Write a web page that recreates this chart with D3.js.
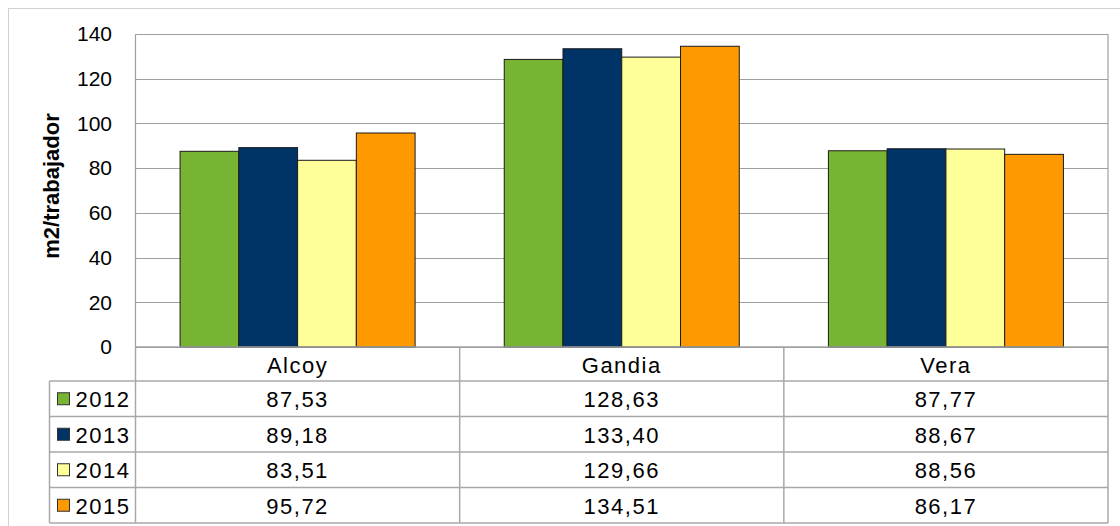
<!DOCTYPE html>
<html>
<head>
<meta charset="utf-8">
<script src="https://cdn.jsdelivr.net/npm/d3@7"></script>
<style>
  html, body { margin: 0; padding: 0; background: #fff; }
  svg { display: block; font-family: "Liberation Sans", Arial, sans-serif; }
</style>
</head>
<body>
<svg id="chart" width="1120" height="526"></svg>
<script>
// data
const categories = ["Alcoy", "Gandia", "Vera"];
const years = ["2012", "2013", "2014", "2015"];
const v2012 = [87.53, 128.63, 87.77];
const v2013 = [89.18, 133.40, 88.67];
const v2014 = [83.51, 129.66, 88.56];
const v2015 = [95.72, 134.51, 86.17];
const yTicks = [0, 20, 40, 60, 80, 100, 120, 140];
const colors = ["#77b433", "#003366", "#ffff99", "#ff9900"];

const seriesValues = [v2012, v2013, v2014, v2015];

const svg = d3.select("#chart");

// outer frame
svg.append("rect")
  .attr("x", 8.5).attr("y", 8.5)
  .attr("width", 1130).attr("height", 540)
  .attr("fill", "none")
  .attr("stroke", "#d0d0d0");

const plot = { left: 135.5, top: 34, right: 1108, bottom: 347 };

const x = d3.scaleBand()
  .domain(categories)
  .range([plot.left, plot.right]);

const xInner = d3.scaleBand()
  .domain(years)
  .range([0, x.bandwidth() * 0.725]);

const y = d3.scaleLinear()
  .domain([0, 140])
  .range([plot.bottom, plot.top]);

// gridlines
svg.append("g")
  .selectAll("line")
  .data(yTicks)
  .join("line")
  .attr("x1", plot.left).attr("x2", plot.right)
  .attr("y1", d => Math.round(y(d)) + 0.5)
  .attr("y2", d => Math.round(y(d)) + 0.5)
  .attr("stroke", "#a0a0a0")
  .attr("stroke-width", 1.2);

// plot border (left/right)
svg.append("line")
  .attr("x1", plot.left).attr("x2", plot.left)
  .attr("y1", plot.top).attr("y2", plot.bottom)
  .attr("stroke", "#a0a0a0").attr("stroke-width", 1.2);
svg.append("line")
  .attr("x1", plot.right).attr("x2", plot.right)
  .attr("y1", plot.top).attr("y2", plot.bottom)
  .attr("stroke", "#a0a0a0").attr("stroke-width", 1.2);

// y tick labels
const yAxis = d3.axisLeft(y).tickValues(yTicks).tickSize(0).tickPadding(23.5);
const yg = svg.append("g")
  .attr("transform", `translate(${plot.left},0)`)
  .call(yAxis);
yg.select(".domain").remove();
yg.selectAll("text")
  .attr("font-size", 21)
  .attr("font-family", "Liberation Sans, Arial, sans-serif")
  .attr("fill", "#000");

// y axis title
svg.append("text")
  .attr("transform", "translate(59,186) rotate(-90)")
  .attr("text-anchor", "middle")
  .attr("font-size", 22)
  .attr("font-weight", "bold")
  .text("m2/trabajador");

// bars
const offset = (x.bandwidth() - xInner.range()[1]) / 2;
years.forEach((yr, si) => {
  svg.append("g")
    .selectAll("rect")
    .data(categories.map((c, ci) => ({ c, v: seriesValues[si][ci] })))
    .join("rect")
    .attr("x", d => x(d.c) + offset + xInner(yr))
    .attr("y", d => y(d.v))
    .attr("width", xInner.bandwidth())
    .attr("height", d => y(0) - y(d.v))
    .attr("fill", colors[si])
    .attr("stroke", "#1a1a1a")
    .attr("stroke-width", 1);
});

// data table
const tableLeft = 49.5;
const headerBottom = 381;
const rowH = 35.5;
const tableBottom = headerBottom + rowH * years.length;
const lineColor = "#a8a8a8";
const tbl = svg.append("g")
  .attr("font-size", 22)
  .attr("letter-spacing", 1.5);

// header row: category names
tbl.selectAll("text.cat")
  .data(categories)
  .join("text")
  .attr("class", "cat")
  .attr("x", d => x(d) + x.bandwidth() / 2)
  .attr("y", (plot.bottom + headerBottom) / 2 + 8.5)
  .attr("text-anchor", "middle")
  .text(d => d);

// horizontal lines
const hLines = d3.range(years.length + 1).map(i => headerBottom + i * rowH);
tbl.selectAll("line.h")
  .data(hLines)
  .join("line")
  .attr("class", "h")
  .attr("x1", tableLeft).attr("x2", plot.right)
  .attr("y1", d => d).attr("y2", d => d)
  .attr("stroke", lineColor).attr("stroke-width", 1.5);

// vertical lines
const vLines = [plot.left].concat(categories.map(c => x(c) + x.bandwidth()));
tbl.selectAll("line.v")
  .data(vLines)
  .join("line")
  .attr("class", "v")
  .attr("x1", d => d).attr("x2", d => d)
  .attr("y1", plot.bottom).attr("y2", tableBottom)
  .attr("stroke", lineColor).attr("stroke-width", 1.5);
tbl.append("line")
  .attr("x1", tableLeft).attr("x2", tableLeft)
  .attr("y1", headerBottom).attr("y2", tableBottom)
  .attr("stroke", lineColor).attr("stroke-width", 1.5);

// axis baseline
svg.append("line")
  .attr("x1", plot.left).attr("x2", plot.right)
  .attr("y1", plot.bottom).attr("y2", plot.bottom)
  .attr("stroke", "#a0a0a0").attr("stroke-width", 1.5);

// legend keys + year labels + values
const fmt = v => d3.format(".2f")(v).replace(".", ",");
years.forEach((yr, si) => {
  const cy = headerBottom + si * rowH + rowH / 2;
  tbl.append("rect")
    .attr("x", 57.5).attr("y", cy - 6)
    .attr("width", 12).attr("height", 12)
    .attr("fill", colors[si])
    .attr("stroke", "#333").attr("stroke-width", 1);
  tbl.append("text")
    .attr("x", 75.5).attr("y", cy + 8.5)
    .text(yr);
  tbl.selectAll(null)
    .data(categories.map((c, ci) => ({ c, v: seriesValues[si][ci] })))
    .join("text")
    .attr("x", d => x(d.c) + x.bandwidth() / 2)
    .attr("y", cy + 8.5)
    .attr("text-anchor", "middle")
    .text(d => fmt(d.v));
});
</script>
</body>
</html>
